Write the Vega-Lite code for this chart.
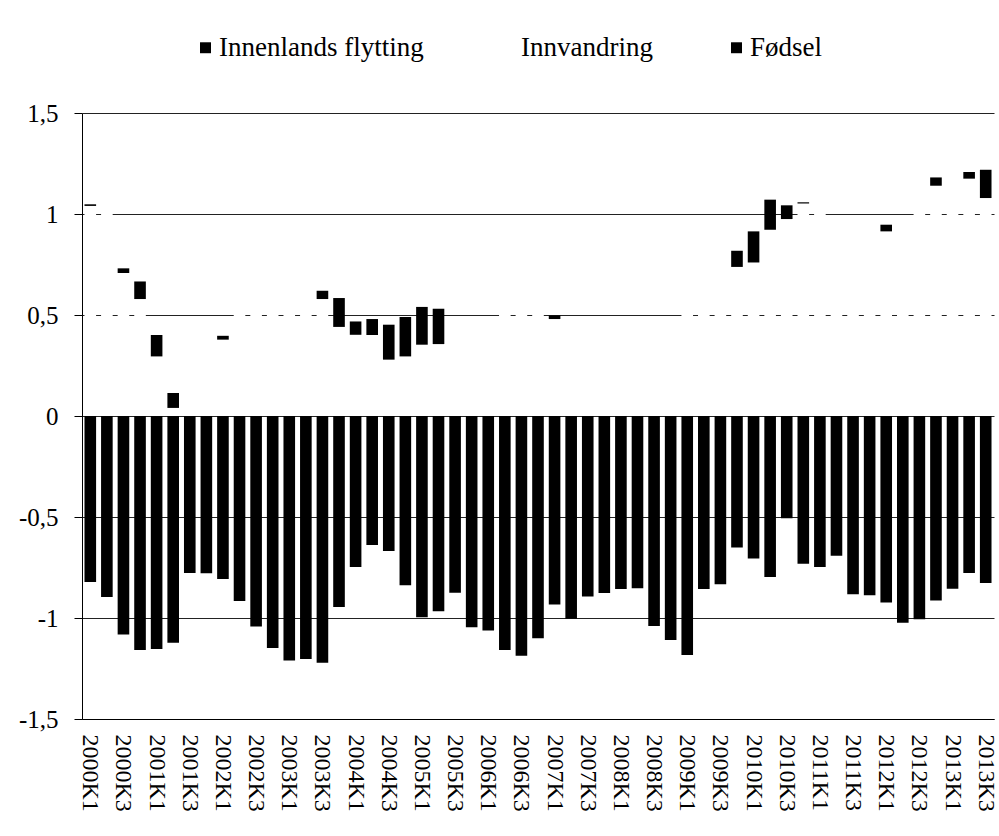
{
  "$schema": "https://vega.github.io/schema/vega-lite/v6.json",
  "width": 912,
  "height": 606,
  "autosize": {"type": "none"},
  "padding": {"left": 82, "top": 113, "right": 5, "bottom": 117},
  "background": "white",
  "data": {
    "values": [
      {"kvartal": "2000K1", "Innenlands flytting": -0.822, "Innvandring": 1.04, "Fødsel": 0.008},
      {"kvartal": "2000K2", "Innenlands flytting": -0.896, "Innvandring": 1.03, "Fødsel": 0},
      {"kvartal": "2000K3", "Innenlands flytting": -1.082, "Innvandring": 0.708, "Fødsel": 0.023},
      {"kvartal": "2000K4", "Innenlands flytting": -1.158, "Innvandring": 0.579, "Fødsel": 0.087},
      {"kvartal": "2001K1", "Innenlands flytting": -1.153, "Innvandring": 0.295, "Fødsel": 0.106},
      {"kvartal": "2001K2", "Innenlands flytting": -1.122, "Innvandring": 0.04, "Fødsel": 0.074},
      {"kvartal": "2001K3", "Innenlands flytting": -0.777, "Innvandring": 0.35, "Fødsel": 0},
      {"kvartal": "2001K4", "Innenlands flytting": -0.779, "Innvandring": 0.35, "Fødsel": 0},
      {"kvartal": "2002K1", "Innenlands flytting": -0.807, "Innvandring": 0.378, "Fødsel": 0.019},
      {"kvartal": "2002K2", "Innenlands flytting": -0.916, "Innvandring": 0.72, "Fødsel": 0},
      {"kvartal": "2002K3", "Innenlands flytting": -1.042, "Innvandring": 0.75, "Fødsel": 0},
      {"kvartal": "2002K4", "Innenlands flytting": -1.148, "Innvandring": 0.78, "Fødsel": 0},
      {"kvartal": "2003K1", "Innenlands flytting": -1.211, "Innvandring": 0.8, "Fødsel": 0},
      {"kvartal": "2003K2", "Innenlands flytting": -1.203, "Innvandring": 0.75, "Fødsel": 0},
      {"kvartal": "2003K3", "Innenlands flytting": -1.221, "Innvandring": 0.579, "Fødsel": 0.041},
      {"kvartal": "2003K4", "Innenlands flytting": -0.946, "Innvandring": 0.441, "Fødsel": 0.143},
      {"kvartal": "2004K1", "Innenlands flytting": -0.747, "Innvandring": 0.402, "Fødsel": 0.066},
      {"kvartal": "2004K2", "Innenlands flytting": -0.638, "Innvandring": 0.401, "Fødsel": 0.079},
      {"kvartal": "2004K3", "Innenlands flytting": -0.668, "Innvandring": 0.279, "Fødsel": 0.173},
      {"kvartal": "2004K4", "Innenlands flytting": -0.838, "Innvandring": 0.295, "Fødsel": 0.195},
      {"kvartal": "2005K1", "Innenlands flytting": -0.996, "Innvandring": 0.353, "Fødsel": 0.187},
      {"kvartal": "2005K2", "Innenlands flytting": -0.966, "Innvandring": 0.356, "Fødsel": 0.175},
      {"kvartal": "2005K3", "Innenlands flytting": -0.875, "Innvandring": 0.4, "Fødsel": 0},
      {"kvartal": "2005K4", "Innenlands flytting": -1.046, "Innvandring": 0.42, "Fødsel": 0},
      {"kvartal": "2006K1", "Innenlands flytting": -1.062, "Innvandring": 0.45, "Fødsel": 0},
      {"kvartal": "2006K2", "Innenlands flytting": -1.158, "Innvandring": 0.7, "Fødsel": 0},
      {"kvartal": "2006K3", "Innenlands flytting": -1.187, "Innvandring": 0.72, "Fødsel": 0},
      {"kvartal": "2006K4", "Innenlands flytting": -1.1, "Innvandring": 0.65, "Fødsel": 0},
      {"kvartal": "2007K1", "Innenlands flytting": -0.933, "Innvandring": 0.48, "Fødsel": 0.018},
      {"kvartal": "2007K2", "Innenlands flytting": -1.004, "Innvandring": 0.42, "Fødsel": 0},
      {"kvartal": "2007K3", "Innenlands flytting": -0.893, "Innvandring": 0.4, "Fødsel": 0},
      {"kvartal": "2007K4", "Innenlands flytting": -0.876, "Innvandring": 0.4, "Fødsel": 0},
      {"kvartal": "2008K1", "Innenlands flytting": -0.857, "Innvandring": 0.42, "Fødsel": 0},
      {"kvartal": "2008K2", "Innenlands flytting": -0.853, "Innvandring": 0.4, "Fødsel": 0},
      {"kvartal": "2008K3", "Innenlands flytting": -1.039, "Innvandring": 0.44, "Fødsel": 0},
      {"kvartal": "2008K4", "Innenlands flytting": -1.109, "Innvandring": 0.45, "Fødsel": 0},
      {"kvartal": "2009K1", "Innenlands flytting": -1.183, "Innvandring": 0.7, "Fødsel": 0},
      {"kvartal": "2009K2", "Innenlands flytting": -0.857, "Innvandring": 0.72, "Fødsel": 0},
      {"kvartal": "2009K3", "Innenlands flytting": -0.833, "Innvandring": 0.7, "Fødsel": 0},
      {"kvartal": "2009K4", "Innenlands flytting": -0.651, "Innvandring": 0.738, "Fødsel": 0.08},
      {"kvartal": "2010K1", "Innenlands flytting": -0.706, "Innvandring": 0.76, "Fødsel": 0.154},
      {"kvartal": "2010K2", "Innenlands flytting": -0.797, "Innvandring": 0.922, "Fødsel": 0.149},
      {"kvartal": "2010K3", "Innenlands flytting": -0.506, "Innvandring": 0.975, "Fødsel": 0.068},
      {"kvartal": "2010K4", "Innenlands flytting": -0.731, "Innvandring": 1.052, "Fødsel": 0.006},
      {"kvartal": "2011K1", "Innenlands flytting": -0.747, "Innvandring": 1.03, "Fødsel": 0},
      {"kvartal": "2011K2", "Innenlands flytting": -0.692, "Innvandring": 0.85, "Fødsel": 0},
      {"kvartal": "2011K3", "Innenlands flytting": -0.883, "Innvandring": 0.85, "Fødsel": 0},
      {"kvartal": "2011K4", "Innenlands flytting": -0.887, "Innvandring": 0.88, "Fødsel": 0},
      {"kvartal": "2012K1", "Innenlands flytting": -0.923, "Innvandring": 0.914, "Fødsel": 0.033},
      {"kvartal": "2012K2", "Innenlands flytting": -1.024, "Innvandring": 0.9, "Fødsel": 0},
      {"kvartal": "2012K3", "Innenlands flytting": -1.006, "Innvandring": 1.08, "Fødsel": 0},
      {"kvartal": "2012K4", "Innenlands flytting": -0.913, "Innvandring": 1.14, "Fødsel": 0.041},
      {"kvartal": "2013K1", "Innenlands flytting": -0.855, "Innvandring": 1.12, "Fødsel": 0},
      {"kvartal": "2013K2", "Innenlands flytting": -0.777, "Innvandring": 1.175, "Fødsel": 0.033},
      {"kvartal": "2013K3", "Innenlands flytting": -0.827, "Innvandring": 1.079, "Fødsel": 0.14}
    ]
  },
  "transform": [
    {"fold": ["Innenlands flytting", "Innvandring", "Fødsel"], "as": ["komponent", "verdi"]}
  ],
  "mark": {"type": "bar"},
  "encoding": {
    "x": {
      "field": "kvartal",
      "type": "nominal",
      "sort": null,
      "scale": {"paddingInner": 0.3, "paddingOuter": 0.15},
      "axis": {
        "title": null,
        "values": ["2000K1","2000K3","2001K1","2001K3","2002K1","2002K3","2003K1","2003K3","2004K1","2004K3","2005K1","2005K3","2006K1","2006K3","2007K1","2007K3","2008K1","2008K3","2009K1","2009K3","2010K1","2010K3","2011K1","2011K3","2012K1","2012K3","2013K1","2013K3"],
        "labelAngle": 90,
        "labelAlign": "left",
        "labelBaseline": "middle",
        "ticks": false,
        "domainColor": "#000000",
        "domainWidth": 1,
        "labelFont": "Liberation Serif",
        "labelFontSize": 24,
        "labelColor": "#000000",
        "labelPadding": 15,
        "labelOverlap": false,
        "labelLimit": 0
      }
    },
    "y": {
      "field": "verdi",
      "type": "quantitative",
      "stack": "zero",
      "scale": {"domain": [-1.5, 1.5], "nice": false},
      "axis": {
        "title": null,
        "values": [-1.5, -1, -0.5, 0, 0.5, 1, 1.5],
        "labelExpr": "replace('' + datum.value, '.', ',')",
        "grid": true,
        "gridColor": "#222222",
        "gridWidth": 1,
        "domainColor": "#000000",
        "tickColor": "#000000",
        "tickSize": 8,
        "labelFont": "Liberation Serif",
        "labelFontSize": 25,
        "labelColor": "#000000",
        "labelPadding": 16
      }
    },
    "color": {
      "field": "komponent",
      "type": "nominal",
      "scale": {
        "domain": ["Innenlands flytting", "Innvandring", "Fødsel"],
        "range": ["#000000", "#ffffff", "#000000"]
      },
      "legend": {
        "title": null,
        "orient": "none",
        "legendX": 110,
        "legendY": -79,
        "direction": "horizontal",
        "symbolType": "square",
        "symbolSize": 120,
        "symbolStrokeWidth": 0,
        "labelFont": "Liberation Serif",
        "labelFontSize": 27,
        "labelColor": "#000000",
        "labelOffset": 0,
        "columnPadding": 70,
        "labelLimit": 0
      }
    },
    "order": {"field": "komponent", "sort": "descending"}
  },
  "config": {
    "view": {"stroke": null},
    "font": "Liberation Serif"
  }
}
